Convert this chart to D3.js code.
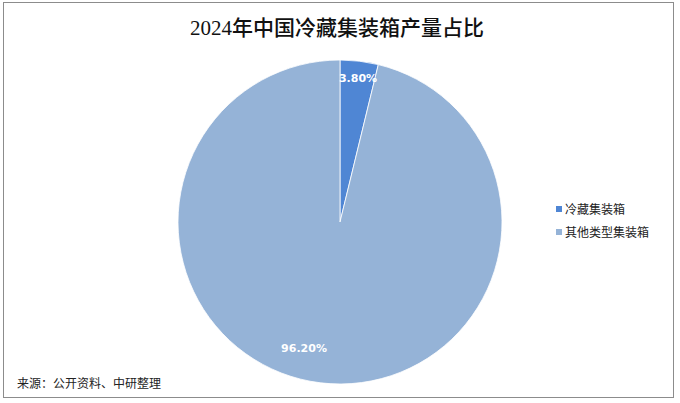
<!DOCTYPE html>
<html><head><meta charset="utf-8">
<script src="https://cdn.jsdelivr.net/npm/d3@7/dist/d3.min.js"></script>
<style>body{margin:0;background:#fff}svg{display:block}</style>
</head><body>
<svg id="c" width="680" height="403"></svg>
<script>
const categories = ["冷藏集装箱", "其他类型集装箱"];
const values = [3.80, 96.20];
const labels = ["3.80%", "96.20%"];
const colors = ["#4F86D4", "#95B3D7"];

const svg = d3.select("#c");
svg.append("rect").attr("x", 3.5).attr("y", 2.5).attr("width", 670).attr("height", 395)
  .attr("fill", "#fff").attr("stroke", "#8c8c8c").attr("stroke-width", 1);

svg.append("text").attr("x", 337).attr("y", 35).attr("text-anchor", "middle")
  .attr("font-family", "'Liberation Serif','Noto Sans CJK SC'").attr("font-size", 21)
  .attr("font-weight", 500).attr("fill", "#111").text("2024年中国冷藏集装箱产量占比");

const cx = 340, cy = 222, r = 162;
const pie = d3.pie().sort(null).value(d => d)(values);
const arc = d3.arc().innerRadius(0).outerRadius(r);
const g = svg.append("g").attr("transform", `translate(${cx},${cy})`);
g.selectAll("path").data(pie).join("path").attr("d", arc)
  .attr("fill", (d, i) => colors[i]).attr("stroke", "#fff").attr("stroke-width", 0.8);

g.selectAll("text.lbl").data(pie).join("text").attr("class", "lbl")
  .attr("transform", (d, i) => {
    if (i === 0) return `translate(${358 - cx},${82 - cy})`;
    return `translate(${304 - cx},${352 - cy})`;
  })
  .attr("text-anchor", "middle").attr("font-family", "'DejaVu Sans',sans-serif")
  .attr("font-size", 11).attr("font-weight", "bold").attr("fill", "#fff")
  .text((d, i) => labels[i]);

const lg = svg.append("g");
categories.forEach((c, i) => {
  const y = 210 + i * 23;
  lg.append("rect").attr("x", 556).attr("y", y - 4).attr("width", 6).attr("height", 6).attr("fill", colors[i]);
  lg.append("text").attr("x", 565).attr("y", y + 4).attr("font-family", "'Noto Sans CJK SC'")
    .attr("font-size", 12).attr("fill", "#222").text(c);
});

svg.append("text").attr("x", 17).attr("y", 388).attr("font-family", "'Noto Sans CJK SC'")
  .attr("font-size", 12).attr("fill", "#222").text("来源：公开资料、中研整理");
</script>
</body></html>
